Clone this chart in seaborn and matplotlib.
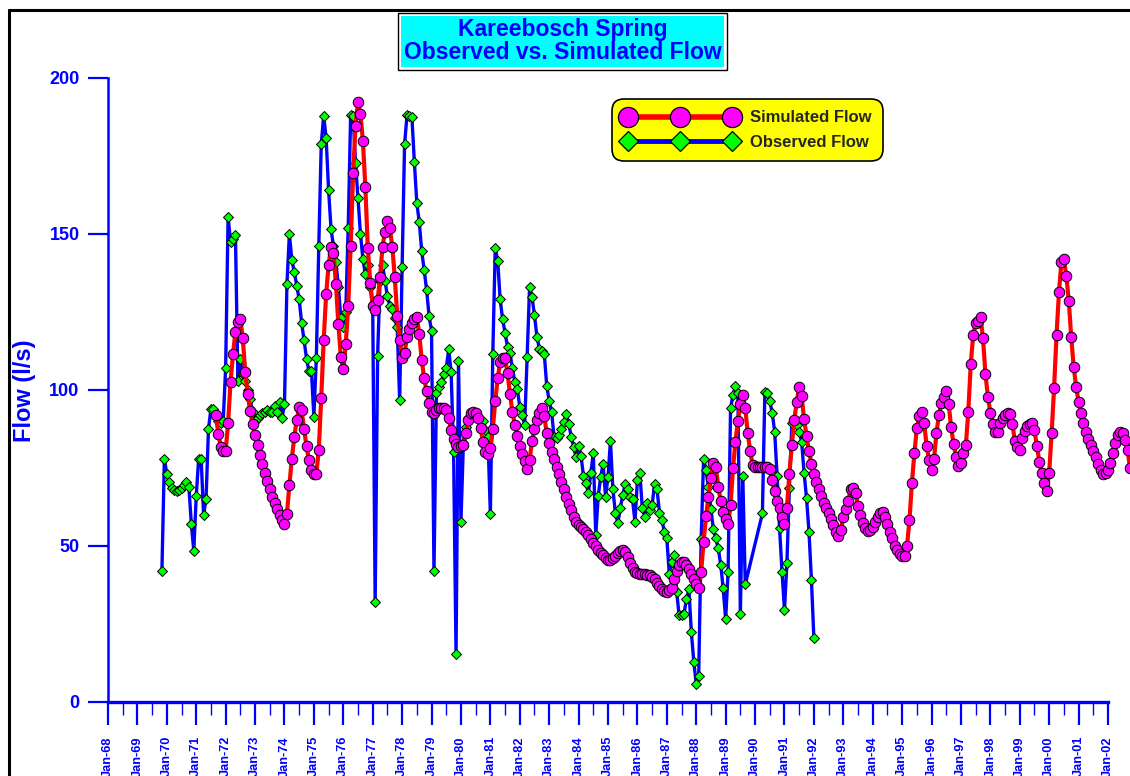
import matplotlib
matplotlib.use("Agg")
import matplotlib.pyplot as plt
from matplotlib.lines import Line2D
from matplotlib.patches import Rectangle
import pandas as pd
import seaborn as sns

# ---------------------------------------------------------------- data
# Simulated spring flow (l/s), one value per month, starting Sep 1971
sim_start = (1971, 9)
sim_flow = [
    92, 86, 81.8, 80.4,                                                              # 1971
    80.5, 89.3, 102.6, 111.4, 118.7, 121.8, 122.6, 116.5, 105.6, 98.7, 93.2, 89,     # 1972
    85.5, 82.3, 79.1, 76.3, 73.5, 70.8, 68.1, 65.8, 63.9, 61.7, 60, 58.3,            # 1973
    56.9, 60.3, 69.4, 78, 84.9, 90.4, 94.6, 93.4, 87.4, 82, 77.4, 74.2,              # 1974
    72.9, 72.9, 80.9, 97.4, 116, 130.6, 140, 145.8, 144, 133.8, 121, 110.5,          # 1975
    106.6, 114.6, 126.9, 146.1, 169.5, 184.6, 192.4, 188.3, 179.8, 164.9, 145.5, 134.4,  # 1976
    127, 125.5, 128.7, 136.1, 145.9, 150.7, 154.1, 151.8, 145.9, 136.1, 123.8, 116,  # 1977
    110.3, 111.8, 116.9, 119.6, 121.5, 122.8, 123.4, 117.9, 109.6, 103.7, 99.5, 95.7,  # 1978
    92.9, 92.7, 93.5, 94.1, 94.1, 94.1, 93.6, 91.1, 87.2, 84.2, 82.6, 81.8,          # 1979
    82, 82.4, 86.1, 90.4, 92.5, 93, 92.5, 90.9, 87.7, 83.4, 80.2, 79.5,              # 1980
    81.3, 87.4, 96.5, 103.7, 109, 110.1, 110.1, 105.5, 98.7, 93, 88.8, 85.2,         # 1981
    82, 79.5, 77.3, 74.6, 77.5, 83.6, 87.5, 90.4, 92.7, 94.1, 91.6, 86.1,            # 1982
    82.9, 80.2, 77.7, 75.4, 72.9, 70.6, 68.1, 65.8, 63.6, 61.5, 59.4, 57.8,          # 1983
    56.7, 56.2, 55.3, 54.5, 53.4, 52.3, 51, 50, 48.8, 47.6, 47, 46.2,                # 1984
    45.6, 45.6, 46.2, 46.8, 47.6, 48.4, 48.8, 48.2, 46.5, 44.5, 42.8, 41.8,          # 1985
    41.3, 41.1, 41, 40.9, 40.8, 40.7, 40.2, 39.3, 38.2, 37.2, 36.1, 35.6,            # 1986
    35.4, 35.9, 36.6, 39.5, 42, 44, 44.8, 45, 43.9, 42.5, 40.9, 39.3,                # 1987
    37.7, 36.4, 41.7, 51.4, 59.7, 65.8, 71.7, 76.7, 75.2, 68.8, 64.4, 61,            # 1988
    58.5, 57, 63.1, 74.9, 83.4, 90.1, 95.4, 98.4, 94.1, 86.1, 80.5, 75.9,            # 1989
    75.4, 75.4, 75.4, 75.4, 75.4, 75.4, 74.5, 71, 67.5, 64.4, 62, 59.4,              # 1990
    57, 62.1, 73.1, 82.3, 90.4, 96.2, 100.8, 98, 90.6, 85.3, 80.4, 76.3,             # 1991
    73.1, 70.4, 68.1, 66, 63.9, 62.1, 60.4, 58.5, 56.7, 54.6, 53.3, 55.1,            # 1992
    59.2, 61.7, 64.4, 68.1, 68.5, 66.9, 62.8, 59.9, 57.4, 55.8, 54.8, 55.2,          # 1993
    56.2, 57.8, 59.4, 60.7, 61, 59.4, 57, 54.6, 52.5, 50, 48.7, 47.4,                # 1994
    46.8, 46.9, 50, 58.3, 70.3, 79.7, 87.7, 91.6, 93, 89.3, 82.1, 77.5,              # 1995
    74.3, 77.8, 86.1, 92, 95.7, 97.8, 99.7, 95.5, 88, 82.7, 78.6, 75.6,              # 1996
    76.5, 79.7, 82.2, 93, 108.2, 117.6, 121.3, 122.2, 123.5, 116.5, 105.1, 97.8,     # 1997
    92.7, 89.1, 86.6, 86.6, 89.3, 90.9, 92, 92.5, 92.3, 89, 83.7, 81.8,              # 1998
    80.9, 84.5, 86.8, 88.5, 89.2, 89.5, 87, 82, 77, 73.5, 70.3, 67.7,                # 1999
    73.5, 86.1, 100.5, 117.6, 131.3, 141.1, 141.8, 136.5, 128.6, 116.9, 107.4, 101,  # 2000
    96.2, 92.5, 89.5, 86.6, 84.3, 82.3, 80.4, 78.4, 76.3, 74.3, 73.2, 73.5,          # 2001
    74.3, 76.5, 79.7, 82.9, 85.5, 86.6, 86.1, 83.9, 80.7, 74.9,                      # 2002
]

# Observed spring flow (l/s), one value per month, starting Nov 1969
# (None marks a month without a reading)
obs_start = (1969, 11)
obs_flow = [
    42, 78,                                                                          # 1969
    73, 70.5, 68.5, 68, 67.5, 68, 68.5, 69.5, 70.5, 69, 57, 48.5,                    # 1970
    66, 78, 78, 60, 65, 87.5, 94, 94, 92, 90, 89.5, 90,                              # 1971
    107, 155.5, 147.5, 148.5, 149.5, 103, 110, 105, 103, 100, 97, 93,                # 1972
    90, 91, 92, 92.5, 93, 93.5, 93, 93, 95, 93, 96, 91,                              # 1973
    95.4, 133.8, 149.9, 141.7, 137.8, 133.3, 129, 121.5, 115.9, 110, 106, 106,       # 1974
    91.4, 110.2, 146.1, 178.7, 187.9, 180.6, 164, 151.5, 146, 141, 133, 123,         # 1975
    120, 125, 151.9, 188, 187.9, 172.7, 161.5, 150, 142, 137, 140, 133,              # 1976
    127, 32, 111, 135, 140, 135, 130, 127, 126, 123, 120, 96.9,                      # 1977
    139.4, 178.7, 188, 187.8, 187.3, 173, 159.8, 153.8, 144.4, 138.4, 132, 123.6,    # 1978
    119, 42, 99, 101, 102.4, 105.1, 106.9, 113, 105.7, 80.2, 15.3, 109.3,            # 1979
    57.7, 83, 88, 91, 92, 92.5, 92, 91, 90.5, 90, 87, 85,                            # 1980
    60.3, 111.5, 145.6, 141.3, 129, 122.6, 118.3, 113.8, 111.9, 106.9, 102.6, 100.2,  # 1981
    94.6, 92, 88.8, 110.4, 133, 129.7, 124, 117, 113.2, 112.6, 111.6, 101.3,         # 1982
    96.5, 92.8, 85, 84.5, 85.5, 87.4, 89.8, 92.3, 89, 85, 81.8, 78.4,                # 1983
    82, 78.8, 72.4, 70.3, 66.9, 73.5, 79.7, 53.5, 66, 72, 76.3, 65.8,                # 1984
    72, 83.7, 68.1, 60.7, 57.2, 62.1, 66.3, 69.8, 68.1, 65.8, 64.9, 57.8,            # 1985
    71.1, 73.3, 62.1, 59.4, 63.7, 61.5, 63.1, 69.8, 68.1, 60.7, 58.3, 54.6,          # 1986
    52.4, 41, 45, 47.1, 35.4, 27.9, 28, 28.2, 32.9, 36.1, 22.5, 12.9,                # 1987
    5.7, 8.3, 52.1, 77.8, 74.3, 68.8, 61.7, 55.3, 52.4, 49.2, 43.9, 36.4,            # 1988
    26.5, 41.7, 94.1, 98.4, 101.2, 99, 28.2, 72.4, 37.7, None, None, None,           # 1989
    None, None, None, 60.4, 99.4, 99.1, 96.4, 92.7, 86.6, 72.4, 55.6, 41.7,          # 1990
    29.5, 44.6, 68.5, 89.3, 90, 88.8, 86.6, 83.4, 73.5, 65.3, 54.6, 39.1,            # 1991
    20.4,                                                                            # 1992
]

tick_years = list(range(1968, 2003))
tick_labels = [f"Jan-{y % 100:02d}" for y in tick_years]
flow_ticks = [0, 50, 100, 150, 200]

BLUE = "#0000FF"
W, H = 1130, 776


def monthly(start, values):
    y0, m0 = start
    t = [y0 + (m0 - 1 + i) / 12.0 for i in range(len(values))]
    return pd.DataFrame({"t": t, "flow": values}).dropna()


def fx(px):
    return px / W


def fy(py):
    return 1 - py / H


sim = monthly(sim_start, sim_flow)
obs = monthly(obs_start, obs_flow)

sns.set_style("white")
plt.rcParams["font.family"] = ["Liberation Sans", "DejaVu Sans"]

fig = plt.figure(figsize=(W / 100, H / 100), dpi=100)
ax = fig.add_axes([fx(108), fy(702), fx(1130 - 108), (702 - 77.8) / H])

sns.lineplot(data=obs, x="t", y="flow", ax=ax, sort=False, estimator=None,
             color=BLUE, lw=2.4, marker="D", markersize=5.2,
             markerfacecolor="#00FF00", markeredgecolor="black",
             markeredgewidth=0.7, zorder=3)
sns.lineplot(data=sim, x="t", y="flow", ax=ax, sort=False, estimator=None,
             color="#FF0000", lw=3.0, marker="o", markersize=7.6,
             markerfacecolor="#FF00FF", markeredgecolor="black",
             markeredgewidth=0.7, zorder=4)

year_px = 1000 / 34.0
ax.set_xlim(1968, 1968 + (1130 - 108) / year_px)
ax.set_ylim(0, 200)
ax.set_xlabel("")
ax.set_ylabel("")

for side in ("top", "right"):
    ax.spines[side].set_visible(False)
ax.spines["left"].set_color(BLUE)
ax.spines["left"].set_linewidth(1.8)
ax.spines["left"].set_bounds(0, 200)
ax.spines["bottom"].set_color(BLUE)
ax.spines["bottom"].set_linewidth(2.4)
ax.spines["bottom"].set_bounds(1968, 2002)

ax.set_xticks(tick_years)
ax.set_xticklabels(tick_labels, rotation=90, fontsize=9.2, fontweight="bold",
                   color=BLUE)
ax.set_xticks([y + 0.5 for y in tick_years[:-1]], minor=True)
ax.set_yticks(flow_ticks)
ax.set_yticklabels([str(v) for v in flow_ticks], fontsize=13,
                   fontweight="bold", color=BLUE)
ax.tick_params(axis="x", which="both", bottom=True)
ax.tick_params(axis="y", which="major", left=True)
ax.tick_params(axis="x", which="major", direction="out", length=16.5,
               width=1.6, color=BLUE, pad=8.0)
ax.tick_params(axis="x", which="minor", direction="out", length=9,
               width=1.0, color=BLUE)
ax.tick_params(axis="y", which="major", direction="out", length=14.5,
               width=1.6, color=BLUE, pad=6)

fig.text(fx(25), fy(391), "Flow (l/s)", rotation=90, ha="center",
         va="center", fontsize=17, fontweight="bold", color=BLUE)

# outer frame of the sheet (top and left edges)
fig.add_artist(Line2D([fx(9), fx(1135)], [fy(10), fy(10)],
                      color="black", lw=2.2, transform=fig.transFigure))
fig.add_artist(Line2D([fx(9), fx(9)], [fy(10), fy(780)],
                      color="black", lw=2.2, transform=fig.transFigure))

# title block
fig.add_artist(Rectangle((fx(398), fy(70)), fx(727 - 398), (70 - 13) / H,
                         facecolor="white", edgecolor="black", lw=1.0,
                         transform=fig.transFigure))
fig.add_artist(Rectangle((fx(401), fy(67)), fx(724 - 401), (67 - 16) / H,
                         facecolor="#00FFFF", edgecolor="none",
                         transform=fig.transFigure))
fig.text(fx(562.5), fy(41), "Kareebosch Spring\nObserved vs. Simulated Flow",
         ha="center", va="center", fontsize=16.5, fontweight="bold",
         color=BLUE, linespacing=1.0)

# legend
handles = [
    Line2D([], [], color="#FF0000", lw=4, marker="o", markersize=14.5,
           markerfacecolor="#FF00FF", markeredgecolor="black",
           markeredgewidth=0.9),
    Line2D([], [], color=BLUE, lw=3.5, marker="D", markersize=10.5,
           markerfacecolor="#00FF00", markeredgecolor="black",
           markeredgewidth=0.9),
]
leg = ax.legend(handles, ["Simulated Flow", "Observed Flow"], numpoints=3,
                loc="upper left", bbox_to_anchor=(fx(612), fy(99)),
                bbox_transform=fig.transFigure, borderaxespad=0,
                frameon=True, fancybox=True, facecolor="#FFFF00",
                edgecolor="black", framealpha=1,
                prop={"weight": "bold", "size": 12},
                handlelength=6.8, handletextpad=0.8, borderpad=0.68,
                labelspacing=0.56)
leg.get_frame().set_linewidth(1.2)
leg.get_frame().set_boxstyle("round", pad=0, rounding_size=0.7)

fig.savefig("out.png", dpi=100)
